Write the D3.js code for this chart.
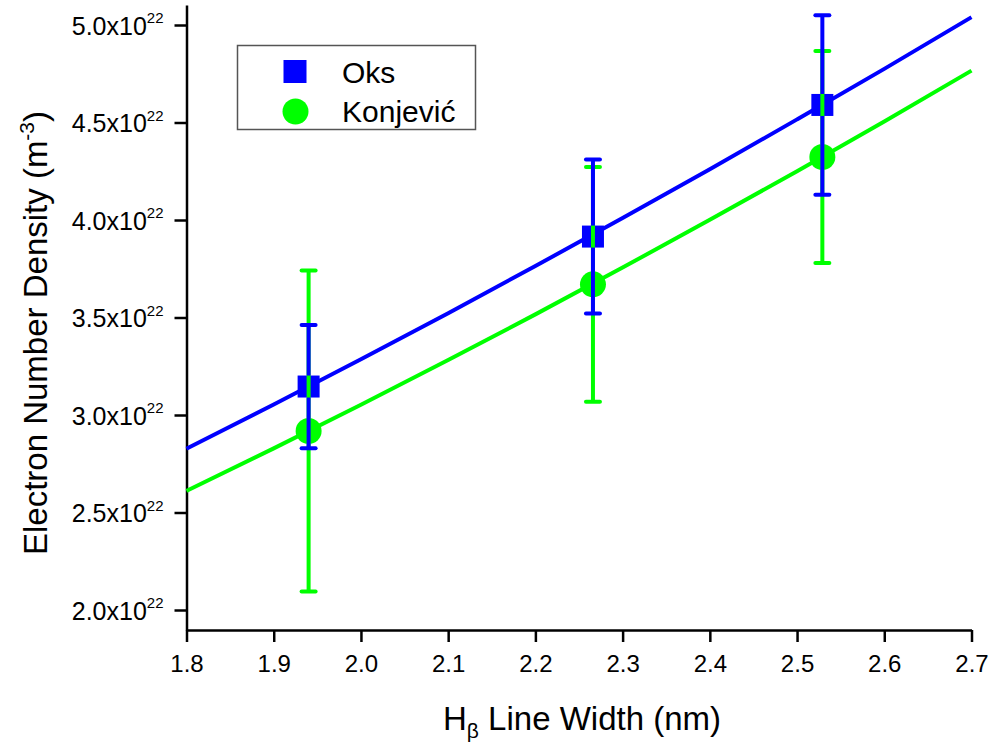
<!DOCTYPE html>
<html>
<head>
<meta charset="utf-8">
<script src="https://cdn.jsdelivr.net/npm/d3@7"></script>
<style>
  body { margin: 0; background: #fff; }
  svg text { font-family: "Liberation Sans", Arial, sans-serif; fill: #000; }
</style>
</head>
<body>
<div id="chart"></div>
<script>
// values in units of 1e22 m^-3
const widths = [1.94, 2.266, 2.529];
const oksDensity = [3.146, 3.915, 4.59];
const oksError = [0.316, 0.395, 0.46];
const konDensity = [2.918, 3.67, 4.323];
const konError = [0.823, 0.602, 0.544];

// model curves at every 0.1 nm
const curveX = [1.8, 1.9, 2.0, 2.1, 2.2, 2.3, 2.4, 2.5, 2.6, 2.7];
const oksCurve = [2.827, 3.054, 3.286, 3.522, 3.764, 4.010, 4.260, 4.516, 4.775, 5.040];
const konCurve = [2.611, 2.829, 3.053, 3.282, 3.516, 3.756, 4.001, 4.250, 4.505, 4.766];

const xTicks = [1.8, 1.9, 2.0, 2.1, 2.2, 2.3, 2.4, 2.5, 2.6, 2.7];
const yTicks = [2.0, 2.5, 3.0, 3.5, 4.0, 4.5, 5.0];

const blue = '#0000ff';
const green = '#00ff00';

const width = 995, height = 742;
const svg = d3.select('#chart').append('svg')
    .attr('width', width)
    .attr('height', height);

const x = d3.scaleLinear().domain([1.8, 2.7]).range([186.5, 971.5]);
const y = d3.scaleLinear().domain([2.0, 5.0]).range([610, 25]);
const yTop = y.invert(5), yBottom = y.invert(630);

// minor ticks halfway between majors
const xMinor = d3.range(1.85, 2.7, 0.1);
const yMinor = d3.range(2.25, 5.0, 0.5);

// axes
const xAxisG = svg.append('g').attr('transform', 'translate(0,630)');
xAxisG.call(d3.axisBottom(x).tickValues(xMinor).tickSize(6).tickSizeOuter(0).tickFormat(''));
xAxisG.call(d3.axisBottom(x).tickValues(xTicks).tickSize(12).tickSizeOuter(0).tickFormat(d3.format('.1f')));
xAxisG.selectAll('text').attr('font-size', 24).attr('dy', 0).attr('y', 42);

const yScaleAxis = d3.scaleLinear().domain([yBottom, yTop]).range([630, 5]);
const yAxisG = svg.append('g').attr('transform', 'translate(186.5,0)');
yAxisG.call(d3.axisLeft(yScaleAxis).tickValues(yMinor).tickSize(6).tickSizeOuter(0).tickFormat(''));
yAxisG.call(d3.axisLeft(yScaleAxis).tickValues(yTicks).tickSize(12).tickSizeOuter(0));
yAxisG.selectAll('text')
    .attr('font-size', 25)
    .attr('x', -23)
    .attr('dy', '0.36em')
    .each(function(d) {
        const t = d3.select(this);
        t.text(null);
        t.append('tspan').text(d.toFixed(1) + 'x10');
        t.append('tspan').attr('font-size', 15).attr('dy', '-0.75em').text('22');
    });

svg.selectAll('.domain').attr('stroke', '#000').attr('stroke-width', 2.5);
svg.selectAll('.tick line').attr('stroke', '#000').attr('stroke-width', 2.5);

// axis titles
const xTitle = svg.append('text')
    .attr('x', 582)
    .attr('y', 730)
    .attr('text-anchor', 'middle')
    .attr('font-size', 33);
xTitle.append('tspan').text('H');
xTitle.append('tspan').attr('font-size', 21).attr('dy', 8).text('β');
xTitle.append('tspan').attr('dy', -8).text(' Line Width (nm)');

const yTitle = svg.append('text')
    .attr('transform', 'translate(47,333) rotate(-90)')
    .attr('text-anchor', 'middle')
    .attr('font-size', 33);
yTitle.append('tspan').text('Electron Number Density (m');
yTitle.append('tspan').attr('font-size', 21).attr('dy', -13).text('-3');
yTitle.append('tspan').attr('dy', 13).text(')');

// model curves
const line = d3.line().curve(d3.curveMonotoneX).x(d => x(d[0])).y(d => y(d[1]));
svg.append('path')
    .datum(curveX.map((v, i) => [v, konCurve[i]]))
    .attr('d', line)
    .attr('fill', 'none')
    .attr('stroke', green)
    .attr('stroke-width', 4);
svg.append('path')
    .datum(curveX.map((v, i) => [v, oksCurve[i]]))
    .attr('d', line)
    .attr('fill', 'none')
    .attr('stroke', blue)
    .attr('stroke-width', 4);

// markers
const oks = widths.map((w, i) => ({w, v: oksDensity[i], e: oksError[i]}));
const kon = widths.map((w, i) => ({w, v: konDensity[i], e: konError[i]}));
const sq = 22, rad = 13;

svg.append('g').selectAll('rect')
    .data(oks)
    .enter().append('rect')
    .attr('x', d => x(d.w) - sq / 2)
    .attr('y', d => y(d.v) - sq / 2)
    .attr('width', sq)
    .attr('height', sq)
    .attr('fill', blue);

svg.append('g').selectAll('circle')
    .data(kon)
    .enter().append('circle')
    .attr('cx', d => x(d.w))
    .attr('cy', d => y(d.v))
    .attr('r', rad)
    .attr('fill', green);

// error bars, drawn from the marker edge outwards
function errorBars(data, color, gap) {
    const g = svg.append('g').attr('stroke', color).attr('stroke-width', 4);
    data.forEach(d => {
        const cx = x(d.w), cy = y(d.v);
        const top = y(d.v + d.e), bottom = y(d.v - d.e);
        g.append('line').attr('x1', cx).attr('x2', cx).attr('y1', top).attr('y2', cy - gap);
        g.append('line').attr('x1', cx).attr('x2', cx).attr('y1', cy + gap).attr('y2', bottom);
        [top, bottom].forEach(yy => {
            g.append('line')
                .attr('x1', cx - 7).attr('x2', cx + 7)
                .attr('y1', yy).attr('y2', yy)
                .attr('stroke-linecap', 'round');
        });
    });
}
errorBars(kon, green, rad);
errorBars(oks, blue, sq / 2);

// legend
const legend = svg.append('g');
legend.append('rect')
    .attr('x', 237.5).attr('y', 45.5)
    .attr('width', 238).attr('height', 84)
    .attr('fill', '#fff')
    .attr('stroke', '#555')
    .attr('stroke-width', 1.5);
legend.append('rect')
    .attr('x', 295 - 11.5).attr('y', 71.5 - 11.5)
    .attr('width', 23).attr('height', 23)
    .attr('fill', blue);
legend.append('circle')
    .attr('cx', 295.5).attr('cy', 111.5).attr('r', 13)
    .attr('fill', green);
legend.append('text').attr('x', 342).attr('y', 83).attr('font-size', 30).text('Oks');
legend.append('text').attr('x', 342).attr('y', 122).attr('font-size', 30).text('Konjević');
</script>
</body>
</html>
